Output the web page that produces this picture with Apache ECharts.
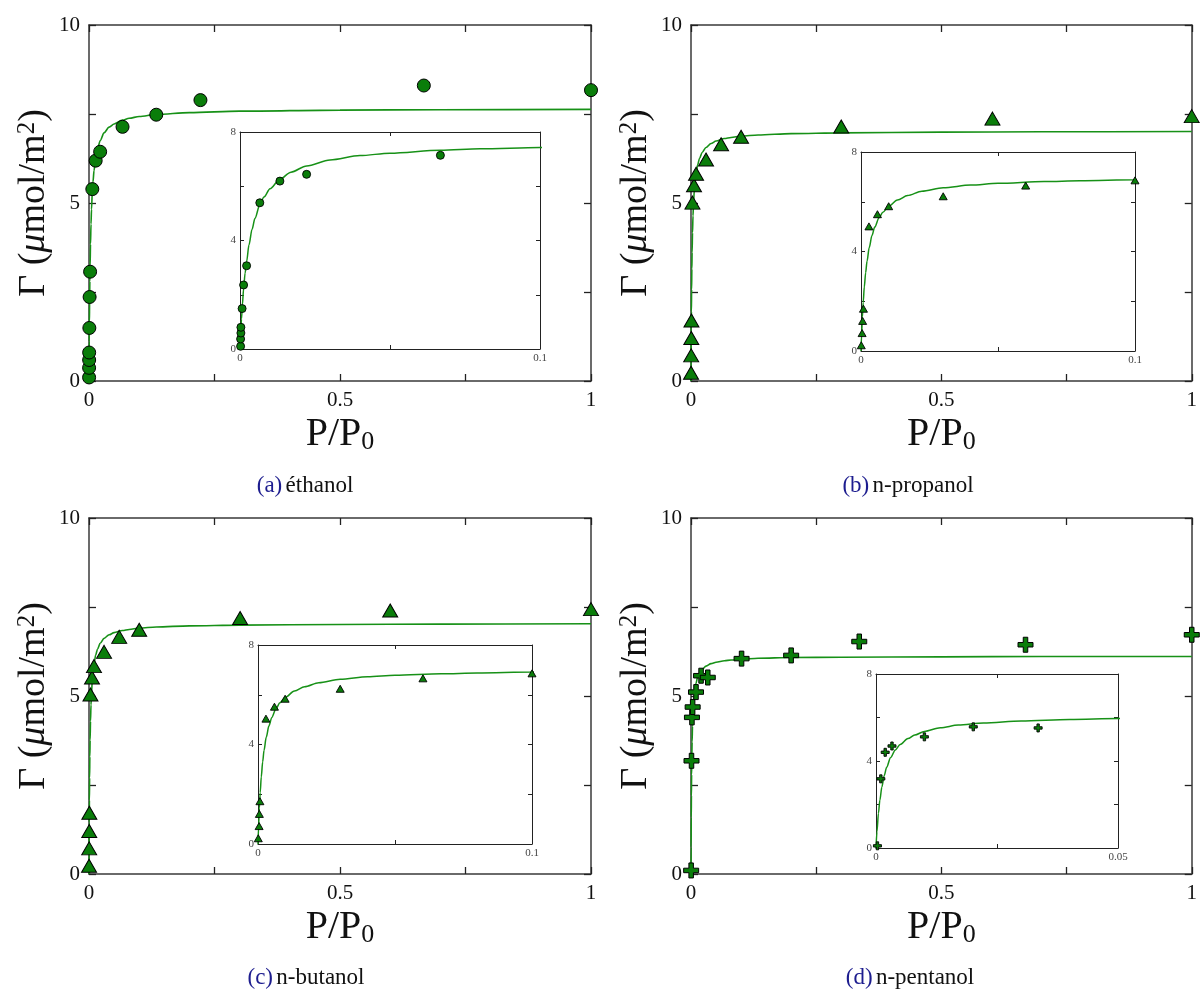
<!DOCTYPE html>
<html>
<head>
<meta charset="utf-8">
<script src="https://cdn.jsdelivr.net/npm/echarts@6/dist/echarts.min.js"></script>
<style>html,body{margin:0;padding:0;background:#fff}#chart{width:1200px;height:992px}</style>
</head>
<body>
<div id="chart"></div>
<script>
// ---------------- DATA ----------------
const captionLetters = ['(a)', '(b)', '(c)', '(d)'];
const captionNames = ['éthanol', 'n-propanol', 'n-butanol', 'n-pentanol'];

// measured points: P/P0 and Gamma (µmol/m²)
const ethanolX = [0.0002, 0.0002, 0.0003, 0.0003, 0.0007, 0.0012, 0.0022, 0.0066, 0.0133, 0.0222, 0.0668, 0.134, 0.222, 0.667, 1.0];
const ethanolY = [0.10, 0.37, 0.59, 0.80, 1.49, 2.36, 3.07, 5.39, 6.19, 6.44, 7.14, 7.48, 7.89, 8.30, 8.17];
const propanolX = [0.0001, 0.0004, 0.0006, 0.0009, 0.0029, 0.006, 0.0101, 0.030, 0.0601, 0.1, 0.3, 0.602, 1.0];
const propanolY = [0.23, 0.72, 1.21, 1.70, 5.01, 5.50, 5.82, 6.22, 6.65, 6.86, 7.15, 7.37, 7.44];
const butanolX = [0.0001, 0.0004, 0.0005, 0.0007, 0.0029, 0.006, 0.0099, 0.030, 0.0602, 0.1, 0.301, 0.60, 1.0];
const butanolY = [0.23, 0.72, 1.21, 1.72, 5.04, 5.52, 5.84, 6.24, 6.66, 6.86, 7.19, 7.40, 7.44];
const pentanolX = [0.0003, 0.001, 0.0019, 0.0033, 0.010, 0.0201, 0.0335, 0.101, 0.2, 0.336, 0.668, 1.0];
const pentanolY = [0.10, 3.18, 4.40, 4.69, 5.11, 5.57, 5.52, 6.05, 6.14, 6.53, 6.44, 6.72];

// fitted curves
const fitX = [0, 0.0002, 0.0005, 0.0008, 0.0012, 0.0017, 0.0022, 0.003, 0.004, 0.005, 0.0066, 0.008, 0.01, 0.0133, 0.017, 0.0222, 0.03, 0.04, 0.05, 0.0668, 0.08, 0.1, 0.134, 0.2, 0.3, 0.5, 0.7, 1.0];
const ethanolFitY  = [0, 0.49, 1.11, 1.64, 2.22, 2.80, 3.22, 3.84, 4.41, 4.82, 5.32, 5.60, 5.91, 6.26, 6.52, 6.75, 6.97, 7.13, 7.22, 7.33, 7.38, 7.43, 7.49, 7.54, 7.58, 7.61, 7.62, 7.63];
const propanolFitY = [0, 0.61, 1.36, 1.95, 2.57, 3.15, 3.61, 4.16, 4.64, 4.98, 5.36, 5.58, 5.81, 6.07, 6.25, 6.42, 6.56, 6.67, 6.74, 6.81, 6.84, 6.88, 6.91, 6.95, 6.97, 6.99, 7.00, 7.01];
const butanolFitY  = [0, 0.66, 1.45, 2.07, 2.70, 3.30, 3.76, 4.29, 4.75, 5.08, 5.45, 5.68, 5.90, 6.15, 6.32, 6.48, 6.62, 6.72, 6.78, 6.84, 6.87, 6.91, 6.94, 6.97, 6.99, 7.01, 7.02, 7.03];
const pentanolFitY = [0, 0.75, 1.59, 2.20, 2.79, 3.33, 3.71, 4.15, 4.51, 4.76, 5.03, 5.19, 5.36, 5.53, 5.65, 5.75, 5.84, 5.91, 5.95, 5.99, 6.01, 6.03, 6.06, 6.08, 6.09, 6.10, 6.11, 6.11];

// axis ticks and tick labels
const mainXTicks = [0, 0.25, 0.5, 0.75, 1];
const mainXLabels = ['0', '', '0.5', '', '1'];
const mainYTicks = [0, 2.5, 5, 7.5, 10];
const mainYLabels = ['0', '', '5', '', '10'];
const insetYTicks = [0, 2, 4, 6, 8];
const insetYLabels = ['0', '', '4', '', '8'];
const insetXTicks = [0, 0.05, 0.1];
const insetXLabels = ['0', '', '0.1'];
const insetXTicksD = [0, 0.025, 0.05];
const insetXLabelsD = ['0', '', '0.05'];

// ---------------- LAYOUT / STYLE ----------------
const FONT = '"Liberation Serif", "DejaVu Serif", serif';
const GREEN = '#0a7d0a';
const LINE = '#179117';
const plusPath = 'path://M35,0H65V35H100V65H65V100H35V65H0V35H35Z';

const panels = [
  {x: ethanolX, y: ethanolY, fy: ethanolFitY, symbol: 'circle', mSize: 13, iSize: 8,
   main: {left: 89, top: 25, width: 502, height: 356}, inset: {left: 240, top: 132, width: 300, height: 217},
   iMax: 0.1, iTicks: insetXTicks, iLabels: insetXLabels, cap: [305, 486]},
  {x: propanolX, y: propanolY, fy: propanolFitY, symbol: 'triangle', mSize: [15, 13], iSize: [8, 7],
   main: {left: 691, top: 25, width: 503, height: 356}, inset: {left: 861, top: 152, width: 274, height: 199},
   iMax: 0.1, iTicks: insetXTicks, iLabels: insetXLabels, cap: [908, 486]},
  {x: butanolX, y: butanolY, fy: butanolFitY, symbol: 'triangle', mSize: [15, 13], iSize: [8, 7],
   main: {left: 89, top: 518, width: 502, height: 356}, inset: {left: 258, top: 645, width: 274, height: 199},
   iMax: 0.1, iTicks: insetXTicks, iLabels: insetXLabels, cap: [306, 978]},
  {x: pentanolX, y: pentanolY, fy: pentanolFitY, symbol: plusPath, mSize: 15, iSize: 8,
   main: {left: 691, top: 518, width: 503, height: 356}, inset: {left: 876, top: 674, width: 242, height: 174},
   iMax: 0.05, iTicks: insetXTicksD, iLabels: insetXLabelsD, cap: [910, 978]}
];

function labelFn(ticks, labels) {
  return function (v) {
    const k = ticks.findIndex(t => Math.abs(t - v) < 1e-9);
    return k >= 0 ? labels[k] : '';
  };
}

function axis(dim, gridIndex, pos, min, max, ticks, labels, big, showLabel, extra) {
  const a = {
    type: 'value', gridIndex: gridIndex, position: pos, min: min, max: max,
    interval: ticks[1] - ticks[0],
    axisLine: {show: true, onZero: false, lineStyle: {color: big ? '#3a3a3a' : '#222', width: big ? 1.5 : 1}},
    axisTick: {show: true, inside: true, length: big ? 7 : 4, lineStyle: {color: '#222', width: big ? 1.3 : 1}},
    axisLabel: {show: showLabel, formatter: labelFn(ticks, labels), fontFamily: FONT,
      fontSize: big ? 21 : 11, color: big ? '#111' : '#444', margin: big ? 9 : 4,
      showMinLabel: true, showMaxLabel: true, hideOverlap: false},
    splitLine: {show: false}
  };
  return Object.assign(a, extra || {});
}

const grids = [], xAxes = [], yAxes = [], series = [], graphics = [];

const yName = '{n|Γ (}{i|μ}{n|mol/m}{s|2}{n|)}';
const xName = '{n|P/P}{s|0}';
const nameRich = {
  n: {fontFamily: FONT, fontSize: 38, color: '#111'},
  i: {fontFamily: FONT, fontSize: 38, fontStyle: 'italic', color: '#111'},
  s: {fontFamily: FONT, fontSize: 25, color: '#111', verticalAlign: 'top'}
};
const xNameRich = {
  n: {fontFamily: FONT, fontSize: 40, color: '#111'},
  s: {fontFamily: FONT, fontSize: 26, color: '#111', verticalAlign: 'bottom', padding: [16, 0, 0, 0]}
};

panels.forEach((p, i) => {
  const gm = 2 * i, gi = 2 * i + 1;
  grids.push(Object.assign({show: true, backgroundColor: '#fff', borderWidth: 0, containLabel: false}, p.main));
  grids.push(Object.assign({show: true, backgroundColor: '#fff', borderWidth: 0, containLabel: false, z: 5}, p.inset));

  xAxes.push(axis('x', gm, 'bottom', 0, 1, mainXTicks, mainXLabels, true, true,
    {name: xName, nameLocation: 'middle', nameGap: 32, nameTextStyle: {rich: xNameRich}}));
  xAxes.push(axis('x', gm, 'top', 0, 1, mainXTicks, mainXLabels, true, false));
  xAxes.push(axis('x', gi, 'bottom', 0, p.iMax, p.iTicks, p.iLabels, false, true, {z: 6}));
  xAxes.push(axis('x', gi, 'top', 0, p.iMax, p.iTicks, p.iLabels, false, false, {z: 6}));

  yAxes.push(axis('y', gm, 'left', 0, 10, mainYTicks, mainYLabels, true, true,
    {name: yName, nameLocation: 'middle', nameGap: 36, nameRotate: 90, nameTextStyle: {rich: nameRich}}));
  yAxes.push(axis('y', gm, 'right', 0, 10, mainYTicks, mainYLabels, true, false));
  yAxes.push(axis('y', gi, 'left', 0, 8, insetYTicks, insetYLabels, false, true, {z: 6}));
  yAxes.push(axis('y', gi, 'right', 0, 8, insetYTicks, insetYLabels, false, false, {z: 6}));

  const pts = p.x.map((v, k) => [v, p.y[k]]);
  const fit = fitX.map((v, k) => [v, p.fy[k]]);

  series.push({type: 'line', xAxisIndex: 4 * i, yAxisIndex: 4 * i, data: fit, showSymbol: false,
    smooth: 0.3, smoothMonotone: 'x', clip: true, lineStyle: {color: LINE, width: 1.6}, z: 2, silent: true});
  series.push({type: 'scatter', xAxisIndex: 4 * i, yAxisIndex: 4 * i, data: pts, symbol: p.symbol,
    symbolSize: p.mSize, clip: true,
    itemStyle: {color: GREEN, opacity: 1, borderColor: '#000', borderWidth: 1}, z: 3, silent: true});
  series.push({type: 'line', xAxisIndex: 4 * i + 2, yAxisIndex: 4 * i + 2, data: fit, showSymbol: false,
    smooth: 0.3, smoothMonotone: 'x', clip: true, lineStyle: {color: LINE, width: 1.5}, z: 7, silent: true});
  series.push({type: 'scatter', xAxisIndex: 4 * i + 2, yAxisIndex: 4 * i + 2,
    data: pts.filter(d => d[0] <= p.iMax + 1e-9), symbol: p.symbol,
    symbolSize: p.iSize, clip: true,
    itemStyle: {color: GREEN, opacity: 1, borderColor: '#000', borderWidth: 0.9}, z: 8, silent: true});

  graphics.push({type: 'text', x: p.cap[0], y: p.cap[1], style: {
    text: '{l|' + captionLetters[i] + '} {t|' + captionNames[i] + '}',
    align: 'center', verticalAlign: 'middle',
    rich: {l: {fontFamily: FONT, fontSize: 23, fill: '#1d1d8f'}, t: {fontFamily: FONT, fontSize: 23, fill: '#111'}}
  }});
});

const chart = echarts.init(document.getElementById('chart'), null, {renderer: 'canvas'});
chart.setOption({
  animation: false,
  backgroundColor: '#fff',
  grid: grids,
  xAxis: xAxes,
  yAxis: yAxes,
  series: series,
  graphic: graphics
});
</script>
</body>
</html>
